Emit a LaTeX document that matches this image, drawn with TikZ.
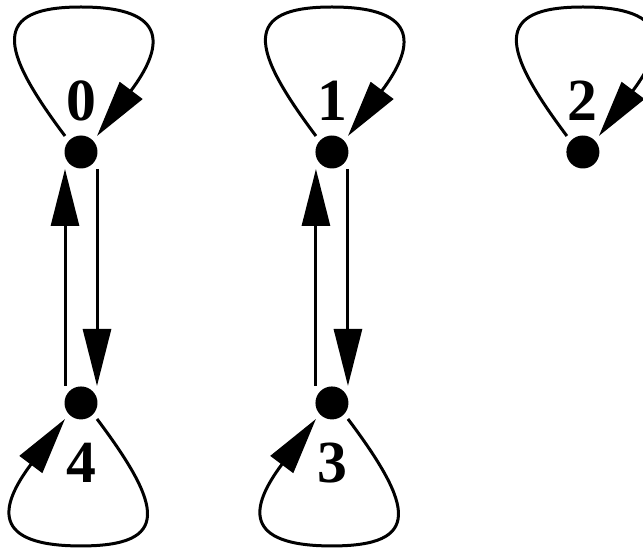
\documentclass[tikz,border=0pt]{standalone}
\usepackage{fontspec}
\setmainfont{Liberation Serif}
\usetikzlibrary{arrows.meta}
\tikzset{
  dot/.style={circle,fill,inner sep=0pt,minimum size=0.66cm},
  num/.style={font=\fontsize{34}{40}\selectfont\bfseries,inner sep=0pt},
}
\begin{document}
\begin{tikzpicture}[x=0.02cm,y=0.02cm,node distance=5.02cm,line width=0.06cm,>={Triangle[length=1.14cm,width=0.56cm]}]
\useasboundingbox (0,0) rectangle (643,548);
\node[dot] (n0) at (81,396) {};
\node[dot,right of=n0] (n1) {};
\node[dot,right of=n1] (n2) {};
\node[dot,below of=n0] (n4) {};
\node[dot,below of=n1] (n3) {};

\node[num] (l0) at ([yshift=1.02cm]n0.center) {0};
\node[num] (l1) at ([yshift=1.02cm]n1.center) {1};
\node[num] (l2) at ([yshift=1.02cm]n2.center) {2};
\node[num] (l4) at ([yshift=-1.2cm]n4.center) {4};
\node[num] (l3) at ([yshift=-1.2cm]n3.center) {3};

\draw[->] ([shift={(-16,16)}]n0.center) .. controls +(-66,88) and +(-90,0) .. ([shift={(0,145)}]n0.center) .. controls +(90,0) and +(66,88) .. ([shift={(16,16)}]n0.center);
\draw[->] ([shift={(-16,16)}]n1.center) .. controls +(-66,88) and +(-90,0) .. ([shift={(0,145)}]n1.center) .. controls +(90,0) and +(66,88) .. ([shift={(16,16)}]n1.center);
\draw[->] ([shift={(-16,16)}]n2.center) .. controls +(-66,88) and +(-90,0) .. ([shift={(0,145)}]n2.center) .. controls +(90,0) and +(66,88) .. ([shift={(16,16)}]n2.center);
\draw[->] ([shift={(16,-16)}]n4.center) .. controls +(66,-88) and +(90,0) .. ([shift={(0,-143)}]n4.center) .. controls +(-90,0) and +(-66,-88) .. ([shift={(-16,-16)}]n4.center);
\draw[->] ([shift={(16,-16)}]n3.center) .. controls +(66,-88) and +(90,0) .. ([shift={(0,-143)}]n3.center) .. controls +(-90,0) and +(-66,-88) .. ([shift={(-16,-16)}]n3.center);

\draw[->] ([shift={(-16,17)}]n4.center) -- ([shift={(-16,-17)}]n0.center);
\draw[->] ([shift={(16,-17)}]n0.center) -- ([shift={(16,17)}]n4.center);
\draw[->] ([shift={(-16,17)}]n3.center) -- ([shift={(-16,-17)}]n1.center);
\draw[->] ([shift={(16,-17)}]n1.center) -- ([shift={(16,17)}]n3.center);
\end{tikzpicture}
\end{document}
